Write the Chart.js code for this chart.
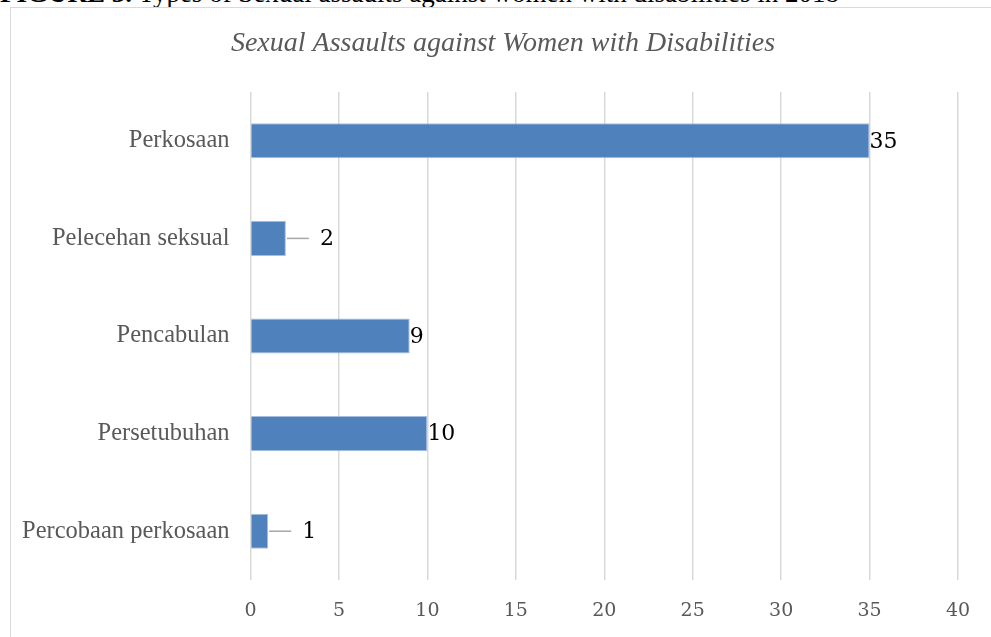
<!DOCTYPE html>
<html>
<head>
    <title>Sexual Assaults against Women with Disabilities</title>
    <script src="https://cdn.jsdelivr.net/npm/chart.js"></script>
    <style>
        body {
            margin: 0;
            width: 991px;
            height: 637px;
            overflow: hidden;
            background: white;
            position: relative;
            font-family: "Liberation Serif", "Times New Roman", serif;
        }
        #caption {
            position: absolute;
            left: 0;
            top: -20px;
            font-size: 27px;
            line-height: 27px;
            color: black;
            white-space: nowrap;
        }
        #frame {
            position: absolute;
            left: 10px;
            top: 7px;
            width: 1100px;
            height: 700px;
            border: 1.5px solid #d9d9d9;
            background: white;
        }
        .chart-box {
            position: absolute;
            left: 0;
            top: 0;
            width: 991px;
            height: 637px;
        }
    </style>
</head>
<body>
    <div id="caption"><b>FIGURE 3.</b> Types of Sexual assaults against women with disabilities in 2018</div>
    <div id="frame"></div>
    <div class="chart-box">
        <canvas id="assaultChart" width="991" height="637"></canvas>
    </div>

    <script>
        const categories = ["Perkosaan", "Pelecehan seksual", "Pencabulan", "Persetubuhan", "Percobaan perkosaan"];
        const cases = [35, 2, 9, 10, 1];
        const xTicks = [0, 5, 10, 15, 20, 25, 30, 35, 40];
        const chartTitle = "Sexual Assaults against Women with Disabilities";

        // title centred on the whole frame, not just the plot
        const frameTitle = {
            id: "frameTitle",
            afterDraw(chart) {
                const c = chart.ctx;
                c.save();
                c.font = "italic 28px 'Liberation Serif'";
                c.fillStyle = "#595959";
                c.textAlign = "center";
                c.textBaseline = "middle";
                c.fillText(chartTitle, 503, 44);
                c.restore();
            }
        };

        // value labels at the end of each bar, small bars get a short leader line
        const valueLabels = {
            id: "valueLabels",
            afterDatasetsDraw(chart) {
                const c = chart.ctx;
                const meta = chart.getDatasetMeta(0);
                c.save();
                c.font = "22px 'DejaVu Serif'";
                c.fillStyle = "#000";
                c.textBaseline = "middle";
                c.textAlign = "left";
                meta.data.forEach(function(bar, i) {
                    const v = cases[i];
                    let tx = bar.x;
                    if (v < 3) {
                        tx = bar.x + 34;
                        c.strokeStyle = "#a6a6a6";
                        c.lineWidth = 1.5;
                        c.beginPath();
                        c.moveTo(bar.x + 1, bar.y);
                        c.lineTo(tx - 11, bar.y);
                        c.stroke();
                    }
                    c.fillText(String(v), tx, bar.y + 1);
                });
                c.restore();
            }
        };

        const ctx = document.getElementById("assaultChart").getContext("2d");
        new Chart(ctx, {
            type: "bar",
            data: {
                labels: categories,
                datasets: [{
                    data: cases,
                    backgroundColor: "#4f81bd",
                    borderColor: "#a7bfdf",
                    borderWidth: 1,
                    barPercentage: 0.36,
                    categoryPercentage: 1
                }]
            },
            options: {
                indexAxis: "y",
                responsive: false,
                animation: false,
                layout: {
                    padding: { left: 0, right: 33, top: 92, bottom: 0 }
                },
                plugins: {
                    legend: { display: false },
                    tooltip: { enabled: false },
                    title: { display: false }
                },
                scales: {
                    x: {
                        min: 0,
                        max: 40,
                        afterBuildTicks: function(scale) {
                            scale.ticks = xTicks.map(function(v) { return { value: v }; });
                        },
                        afterFit: function(scale) { scale.height = 57; },
                        grid: {
                            color: "#d9d9d9",
                            lineWidth: 1.5,
                            drawTicks: false
                        },
                        border: { display: false },
                        ticks: {
                            color: "#595959",
                            padding: 20,
                            font: { family: "'DejaVu Serif'", size: 19 }
                        }
                    },
                    y: {
                        afterFit: function(scale) { scale.width = 250.5; },
                        grid: { display: false, drawTicks: false },
                        border: { display: false },
                        ticks: {
                            color: "#595959",
                            padding: 21,
                            font: { family: "'Liberation Serif'", size: 24.5 }
                        }
                    }
                }
            },
            plugins: [valueLabels, frameTitle]
        });
    </script>
</body>
</html>
